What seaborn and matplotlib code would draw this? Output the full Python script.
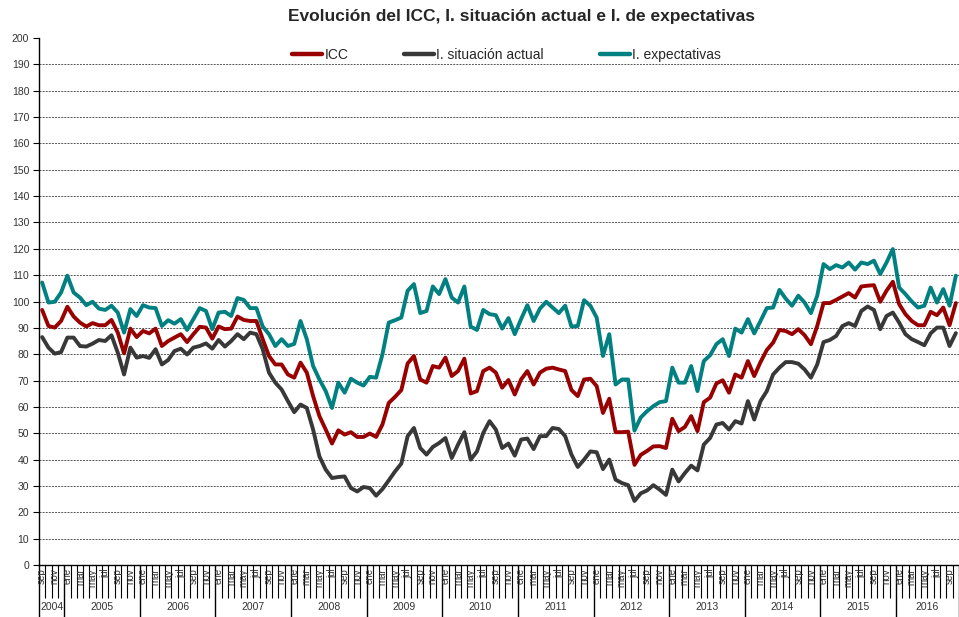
import numpy as np
import pandas as pd
import matplotlib
matplotlib.use("Agg")
import matplotlib.pyplot as plt
import seaborn as sns

# monthly series, sep-2004 .. oct-2016
MONTH_ABBR = ["ene", "feb", "mar", "abr", "may", "jun",
              "jul", "ago", "sep", "oct", "nov", "dic"]
periods = pd.period_range("2004-09", "2016-10", freq="M")

icc = [
    96.8, 90.7, 90.1, 92.6, 98.0, 94.3, 92.0, 90.5, 91.8, 91.0, 91.0, 93.0,
    88.2, 80.3, 89.7, 86.5, 88.8, 87.9, 89.7, 83.1, 85.0, 86.3, 87.6, 84.6,
    87.6, 90.4, 90.1, 85.9, 90.5, 89.5, 89.7, 94.3, 93.0, 92.6, 92.6, 85.7,
    79.3, 76.1, 76.1, 72.3, 71.1, 76.8, 73.0, 64.1, 56.5, 51.4, 46.1, 51.1,
    49.5, 50.4, 48.6, 48.6, 49.9, 48.6, 53.3, 61.5, 63.8, 66.4, 76.5, 79.3,
    70.4, 69.2, 75.5, 74.9, 78.7, 71.7, 73.6, 78.3, 65.1, 66.0, 73.6, 74.9,
    73.0, 67.3, 70.2, 64.7, 70.4, 73.6, 68.5, 73.0, 74.5, 74.9, 74.2, 73.6,
    66.4, 64.1, 70.4, 70.7, 67.9, 57.7, 63.1, 50.4, 50.4, 50.6, 38.0, 41.8,
    43.3, 45.0, 45.1, 44.4, 55.5, 50.8, 52.4, 56.5, 50.8, 61.8, 63.5, 68.9,
    70.1, 65.4, 72.3, 71.1, 77.4, 71.7, 77.0, 81.6, 84.4, 89.2, 88.8, 87.6,
    89.5, 87.2, 83.8, 90.7, 99.4, 99.4, 100.6, 101.9, 103.2, 101.5, 105.7, 106.0,
    106.2, 99.9, 104.1, 107.5, 99.0, 95.2, 92.6, 91.0, 91.0, 96.1, 94.8, 97.7,
    91.0, 99.4,
]

situacion = [
    86.5, 82.5, 80.2, 80.8, 86.3, 86.3, 83.1, 82.9, 84.0, 85.4, 85.0, 87.2,
    80.6, 72.3, 82.5, 78.7, 79.3, 78.6, 81.9, 76.1, 77.8, 81.2, 82.1, 79.9,
    82.5, 83.1, 84.1, 82.1, 85.4, 82.9, 85.0, 87.6, 85.7, 88.2, 87.6, 81.9,
    73.0, 69.2, 66.6, 62.2, 58.0, 60.9, 59.6, 51.4, 41.2, 36.2, 33.0, 33.4,
    33.6, 29.2, 27.9, 29.6, 29.2, 26.3, 28.8, 32.1, 35.5, 38.5, 48.9, 52.0,
    44.4, 41.9, 44.8, 46.3, 48.2, 40.6, 45.7, 50.4, 40.0, 43.1, 50.1, 54.6,
    51.4, 44.4, 46.1, 41.5, 47.6, 48.0, 44.0, 48.9, 48.9, 52.0, 51.6, 48.9,
    41.9, 37.2, 40.0, 43.1, 42.8, 36.4, 40.0, 32.4, 31.1, 30.3, 24.3, 27.2,
    28.3, 30.3, 28.6, 26.6, 36.2, 31.7, 34.9, 37.7, 35.9, 45.7, 48.2, 53.3,
    53.9, 51.4, 54.6, 53.7, 62.2, 55.2, 62.2, 66.0, 72.3, 74.9, 77.0, 77.0,
    76.4, 74.2, 71.1, 76.1, 84.6, 85.4, 86.9, 90.7, 91.8, 90.7, 96.4, 98.1,
    96.8, 89.5, 94.5, 95.8, 92.0, 87.6, 85.7, 84.6, 83.4, 87.9, 90.1, 90.1,
    83.1, 88.0,
]

expectativas = [
    107.2, 99.6, 99.9, 103.4, 109.8, 103.4, 101.5, 98.6, 99.9, 97.3, 96.8, 98.4,
    95.8, 88.2, 97.1, 94.5, 98.6, 97.7, 97.5, 90.7, 92.9, 91.6, 93.3, 89.2,
    93.3, 97.5, 96.4, 89.5, 95.8, 96.1, 94.5, 101.3, 100.6, 97.5, 97.5, 90.5,
    87.6, 83.1, 85.7, 83.1, 83.9, 92.6, 85.7, 75.5, 70.4, 66.0, 59.6, 69.2,
    65.4, 70.7, 69.2, 68.1, 71.4, 71.1, 79.9, 92.0, 92.9, 93.9, 104.1, 106.6,
    95.6, 96.4, 105.7, 102.8, 108.5, 101.5, 99.6, 105.7, 90.5, 89.2, 96.8, 95.2,
    94.8, 89.7, 93.7, 87.6, 93.3, 98.6, 92.6, 97.3, 99.9, 97.7, 95.6, 98.4,
    90.5, 90.7, 100.5, 98.4, 93.9, 79.3, 87.6, 68.5, 70.4, 70.4, 51.0, 56.0,
    58.4, 60.3, 61.8, 62.2, 74.9, 69.2, 69.2, 75.5, 66.0, 77.4, 79.6, 83.8,
    85.7, 79.3, 89.7, 88.2, 93.3, 87.9, 92.6, 97.5, 97.7, 104.4, 101.1, 98.4,
    102.2, 99.6, 95.6, 102.2, 114.2, 112.3, 113.8, 112.9, 114.8, 112.1, 114.8, 114.2,
    115.5, 110.4, 114.8, 119.9, 105.3, 102.8, 100.0, 97.7, 98.4, 105.3, 99.6, 104.7,
    98.4, 109.8,
]

SERIES_NAMES = ["ICC", "I. situación actual", "I. expectativas"]
COLORS = ["#990000", "#383838", "#008080"]

sns.set_style("white")
plt.rcParams["font.family"] = ["Liberation Sans", "DejaVu Sans"]

idx = np.arange(len(periods))
df = pd.concat([
    pd.DataFrame({"idx": idx, "valor": vals, "serie": name})
    for name, vals in zip(SERIES_NAMES, [icc, situacion, expectativas])
])

fig = plt.figure(figsize=(9.59, 6.17), dpi=100)
ax = fig.add_axes([39 / 959, 52 / 617, 920 / 959, 527 / 617])

sns.lineplot(data=df, x="idx", y="valor", hue="serie", hue_order=SERIES_NAMES,
             palette=COLORS, linewidth=2.8, ax=ax)

n = len(periods)
ax.set_xlim(-0.5, n - 0.5)
ax.set_ylim(0, 200)
ax.set_xlabel("")
ax.set_ylabel("")

# y axis
ax.set_yticks(np.arange(0, 201, 10))
ax.tick_params(axis="y", left=True, direction="out", length=4, width=0.8,
               color="black", labelsize=7.5, labelcolor="#333333", pad=3)
ax.yaxis.grid(True, color="#555555", linestyle=(0, (2, 1.2)), linewidth=0.7)
ax.xaxis.grid(False)
grid = ax.get_ygridlines()
grid[0].set_visible(False)
grid[-1].set_visible(False)

for side in ["top", "right"]:
    ax.spines[side].set_visible(False)
for side in ["left", "bottom"]:
    ax.spines[side].set_color("black")
    ax.spines[side].set_linewidth(1.0)

# x axis: month boundaries (minor) and year boundaries (major)
year_starts = [i for i, p in enumerate(periods) if p.month == 1]
year_bounds = [-0.5] + [i - 0.5 for i in year_starts] + [n - 0.5]
ax.set_xticks(year_bounds)
ax.set_xticks(np.arange(-0.5, n, 1), minor=True)
ax.set_xticklabels([])
ax.tick_params(axis="x", which="major", bottom=True, direction="out",
               length=38, width=1.0, color="black")
ax.tick_params(axis="x", which="minor", bottom=True, direction="out",
               length=24, width=0.8, color="black")

xtrans = ax.get_xaxis_transform()
for i, p in enumerate(periods):
    if i % 2 == 0:
        ax.text(i, -0.006, MONTH_ABBR[p.month - 1], transform=xtrans,
                rotation=90, ha="center", va="top", fontsize=7,
                color="#333333")

years = sorted(set(p.year for p in periods))
for yr in years:
    pos = [i for i, p in enumerate(periods) if p.year == yr]
    ax.text(np.mean(pos), -0.08, str(yr), transform=xtrans, ha="center",
            va="center", fontsize=7.5, color="#333333")

leg = ax.legend(loc="center", bbox_to_anchor=(0.508, 0.968), ncol=3,
                frameon=False, fontsize=10, handlelength=2.2,
                handletextpad=0.15, columnspacing=4.0)
for line in leg.get_lines():
    line.set_linewidth(3.2)

fig.text(521 / 959, 1 - 17 / 617,
         "Evolución del ICC, I. situación actual e I. de expectativas",
         ha="center", va="center", fontsize=12.5, fontweight="bold")

fig.savefig("out.png", dpi=100)
